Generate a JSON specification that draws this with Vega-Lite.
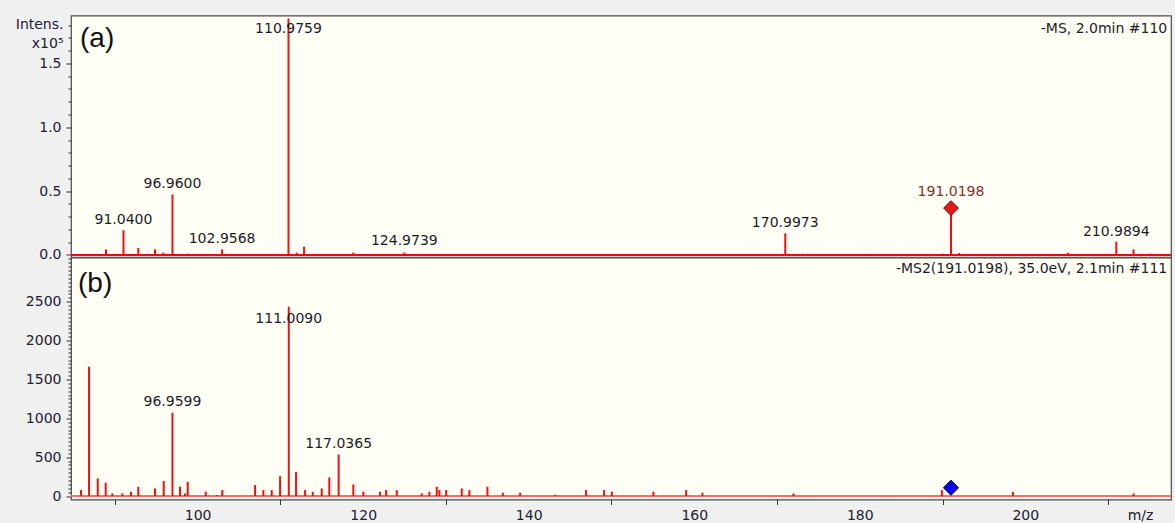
{
  "$schema": "https://vega.github.io/schema/vega-lite/v6.json",
  "padding": {"left": 14, "top": 14.5, "right": 4, "bottom": 0},
  "background": "#f0f0f0",
  "bounds": "flush",
  "datasets": {
    "ms1": [
      {"mz": 88.93, "I": 4400}, {"mz": 91.04, "I": 19300}, {"mz": 92.83, "I": 5500},
      {"mz": 94.85, "I": 4400}, {"mz": 95.85, "I": 1800}, {"mz": 96.96, "I": 47400},
      {"mz": 98.8, "I": 1000}, {"mz": 102.9568, "I": 4400}, {"mz": 110.9759, "I": 185100},
      {"mz": 111.97, "I": 1800}, {"mz": 112.86, "I": 6500}, {"mz": 118.81, "I": 1800},
      {"mz": 124.9739, "I": 2000}, {"mz": 168.89, "I": 1000}, {"mz": 170.9973, "I": 17000},
      {"mz": 173.07, "I": 1000}, {"mz": 181.05, "I": 800}, {"mz": 186.9, "I": 800},
      {"mz": 189.99, "I": 1000}, {"mz": 191.0198, "I": 36700}, {"mz": 192.01, "I": 1500},
      {"mz": 205.15, "I": 1800}, {"mz": 210.9894, "I": 10400}, {"mz": 213.07, "I": 4400},
      {"mz": 215.09, "I": 1000}, {"mz": 216.3, "I": 800}
    ],
    "lab1": [
      {"mz": 91.04, "ly": 27300, "label": "91.0400"},
      {"mz": 96.96, "ly": 55500, "label": "96.9600"},
      {"mz": 102.9568, "ly": 12200, "label": "102.9568"},
      {"mz": 110.9759, "ly": 177300, "label": "110.9759"},
      {"mz": 124.9739, "ly": 10900, "label": "124.9739"},
      {"mz": 170.9973, "ly": 25200, "label": "170.9973"},
      {"mz": 210.9894, "ly": 18200, "label": "210.9894"}
    ],
    "prec1": [{"mz": 191.0198, "I": 36700, "ly": 49500, "label": "191.0198"}],
    "ms2": [
      {"mz": 85.91, "I": 77}, {"mz": 86.88, "I": 1664}, {"mz": 87.93, "I": 227},
      {"mz": 88.89, "I": 172}, {"mz": 89.69, "I": 34}, {"mz": 90.9, "I": 34},
      {"mz": 91.95, "I": 56}, {"mz": 92.83, "I": 120}, {"mz": 94.85, "I": 99},
      {"mz": 95.9, "I": 193}, {"mz": 96.9599, "I": 1072}, {"mz": 97.87, "I": 120},
      {"mz": 98.48, "I": 34}, {"mz": 98.8, "I": 184}, {"mz": 100.98, "I": 56},
      {"mz": 102.31, "I": 13}, {"mz": 102.98, "I": 77}, {"mz": 106.94, "I": 141},
      {"mz": 107.94, "I": 77}, {"mz": 108.95, "I": 77}, {"mz": 109.96, "I": 257},
      {"mz": 111.009, "I": 2436}, {"mz": 111.89, "I": 309}, {"mz": 112.98, "I": 77},
      {"mz": 113.91, "I": 56}, {"mz": 114.99, "I": 99}, {"mz": 115.91, "I": 240},
      {"mz": 117.0365, "I": 536}, {"mz": 118.81, "I": 150}, {"mz": 120.02, "I": 56},
      {"mz": 122.04, "I": 56}, {"mz": 122.77, "I": 77}, {"mz": 124.06, "I": 77},
      {"mz": 127.08, "I": 34}, {"mz": 128.0, "I": 56}, {"mz": 128.89, "I": 120},
      {"mz": 129.21, "I": 77}, {"mz": 130.02, "I": 77}, {"mz": 131.91, "I": 99},
      {"mz": 132.83, "I": 77}, {"mz": 135.01, "I": 120}, {"mz": 136.87, "I": 43},
      {"mz": 138.96, "I": 43}, {"mz": 143.19, "I": 17}, {"mz": 146.93, "I": 77},
      {"mz": 149.11, "I": 77}, {"mz": 150.04, "I": 56}, {"mz": 155.07, "I": 56},
      {"mz": 159.02, "I": 77}, {"mz": 160.99, "I": 43}, {"mz": 171.99, "I": 34},
      {"mz": 189.92, "I": 77}, {"mz": 198.5, "I": 56}, {"mz": 213.07, "I": 34}
    ],
    "lab2": [
      {"mz": 96.9599, "ly": 1208, "label": "96.9599"},
      {"mz": 111.009, "ly": 2281, "label": "111.0090"},
      {"mz": 117.0365, "ly": 668, "label": "117.0365"}
    ],
    "prec2": [{"mz": 191.0198, "I": 107}],
    "one": [{"k": 1}]
  },
  "spacing": 0,
  "vconcat": [
    {
      "width": 1100,
      "height": 241.5,
      "resolve": {"axis": {"y": "independent"}},
      "layer": [
        {
          "data": {"name": "ms1"},
          "mark": {"type": "rule", "color": "#ee1111", "strokeWidth": 2},
          "encoding": {
            "x": {"field": "mz", "type": "quantitative", "scale": {"domain": [84.7, 217.6], "nice": false, "zero": false}, "axis": null},
            "y": {"field": "I", "type": "quantitative",
                  "scale": {"domain": [-1600, 187500], "nice": false, "zero": false},
                  "axis": {
                    "orient": "left",
                    "values": [0, 50000, 100000, 150000],
                    "labelExpr": "format(datum.value / 100000, '.1f')",
                    "tickSize": 5,
                    "labelPadding": 5,
                    "title": ["Intens.", "x10⁵"],
                    "titleAngle": 0, "titleAlign": "right", "titleBaseline": "top",
                    "titleX": -8, "titleY": 2, "titleFontWeight": "normal",
                    "titleFontSize": 14, "titleLineHeight": 19, "titleColor": "#202030"
                  }},
            "y2": {"datum": 0}
          }
        },
        {
          "data": {"name": "one"},
          "mark": {"type": "rule", "color": "#dd0f0f", "strokeWidth": 2},
          "encoding": {
            "y": {"datum": 0, "type": "quantitative",
                  "axis": {"orient": "left", "values": [10000,20000,30000,40000,60000,70000,80000,90000,110000,120000,130000,140000,160000,170000,180000], "labels": false, "tickSize": 3, "title": null}}
          }
        },
        {
          "data": {"name": "prec1"},
          "mark": {"type": "point", "shape": "diamond", "filled": true, "size": 220, "fill": "#e41a1a", "stroke": "#6a0a0a", "strokeWidth": 1, "opacity": 1},
          "encoding": {"x": {"field": "mz", "type": "quantitative"}, "y": {"field": "I", "type": "quantitative", "axis": null}}
        },
        {
          "data": {"name": "prec1"},
          "mark": {"type": "text", "fontSize": 14, "baseline": "middle", "color": "#8a2c2c"},
          "encoding": {"x": {"field": "mz", "type": "quantitative"}, "y": {"field": "ly", "type": "quantitative", "axis": null}, "text": {"field": "label"}}
        },
        {
          "data": {"name": "lab1"},
          "mark": {"type": "text", "fontSize": 14, "baseline": "middle", "color": "#1c1c28"},
          "encoding": {"x": {"field": "mz", "type": "quantitative"}, "y": {"field": "ly", "type": "quantitative", "axis": null}, "text": {"field": "label"}}
        },
        {
          "data": {"name": "one"},
          "mark": {"type": "text", "fontSize": 14, "align": "right", "baseline": "middle", "color": "#1c1c28"},
          "encoding": {"x": {"datum": 217.15, "type": "quantitative"}, "y": {"datum": 176600, "type": "quantitative", "axis": null}, "text": {"value": "-MS, 2.0min #110"}}
        },
        {
          "data": {"name": "one"},
          "mark": {"type": "text", "fontSize": 28, "font": "Liberation Sans", "align": "left", "baseline": "middle", "color": "#111111"},
          "encoding": {"x": {"datum": 85.79, "type": "quantitative"}, "y": {"datum": 169100, "type": "quantitative", "axis": null}, "text": {"value": "(a)"}}
        }
      ]
    },
    {
      "width": 1100,
      "height": 242,
      "resolve": {"axis": {"y": "independent"}},
      "layer": [
        {
          "data": {"name": "one"},
          "mark": {"type": "rule", "color": "#ff6a6a", "strokeWidth": 2},
          "encoding": {
            "y": {"datum": 0, "type": "quantitative",
                  "axis": {"orient": "left", "labels": false, "tickSize": 3, "title": null,
                           "values": [50,100,150,200,250,300,350,400,450,550,600,650,700,750,800,850,900,950,1050,1100,1150,1200,1250,1300,1350,1400,1450,1550,1600,1650,1700,1750,1800,1850,1900,1950,2050,2100,2150,2200,2250,2300,2350,2400,2450,2550,2600,2650,2700,2750,2800,2850,2900,2950,3000,3050]}}
          }
        },
        {
          "data": {"name": "ms2"},
          "mark": {"type": "rule", "color": "#ee1111", "strokeWidth": 2},
          "encoding": {
            "x": {"field": "mz", "type": "quantitative",
                  "scale": {"domain": [84.7, 217.6], "nice": false, "zero": false},
                  "axis": {
                    "values": [90,100,110,120,130,140,150,160,170,180,190,200,210],
                    "labelExpr": "datum.value % 20 === 0 ? format(datum.value, 'd') : ''",
                    "tickSize": 5,
                    "tickOpacity": {"condition": {"test": "datum.value % 20 === 0", "value": 0}, "value": 1},
                    "labelPadding": 4,
                    "labelOverlap": false,
                    "labelFlush": false,
                    "title": "m/z",
                    "titleX": 1069, "titleY": 20, "titleAlign": "center", "titleBaseline": "alphabetic",
                    "titleFontWeight": "normal", "titleFontSize": 14, "titleColor": "#202030"
                  }},
            "y": {"field": "I", "type": "quantitative",
                  "scale": {"domain": [-44, 3069], "nice": false, "zero": false},
                  "axis": {
                    "orient": "left",
                    "values": [0, 500, 1000, 1500, 2000, 2500],
                    "format": "d",
                    "tickSize": 5,
                    "labelPadding": 5,
                    "title": null
                  }},
            "y2": {"datum": 0}
          }
        },
        {
          "data": {"name": "prec2"},
          "mark": {"type": "point", "shape": "diamond", "filled": true, "size": 230, "fill": "#0a0ae6", "stroke": "#00005a", "strokeWidth": 1, "opacity": 1},
          "encoding": {"x": {"field": "mz", "type": "quantitative"}, "y": {"field": "I", "type": "quantitative", "axis": null}}
        },
        {
          "data": {"name": "lab2"},
          "mark": {"type": "text", "fontSize": 14, "baseline": "middle", "color": "#1c1c28"},
          "encoding": {"x": {"field": "mz", "type": "quantitative"}, "y": {"field": "ly", "type": "quantitative", "axis": null}, "text": {"field": "label"}}
        },
        {
          "data": {"name": "one"},
          "mark": {"type": "text", "fontSize": 14, "align": "right", "baseline": "middle", "color": "#1c1c28"},
          "encoding": {"x": {"datum": 217.15, "type": "quantitative"}, "y": {"datum": 2915, "type": "quantitative", "axis": null}, "text": {"value": "-MS2(191.0198), 35.0eV, 2.1min #111"}}
        },
        {
          "data": {"name": "one"},
          "mark": {"type": "text", "fontSize": 28, "font": "Liberation Sans", "align": "left", "baseline": "middle", "color": "#111111"},
          "encoding": {"x": {"datum": 85.55, "type": "quantitative"}, "y": {"datum": 2729, "type": "quantitative", "axis": null}, "text": {"value": "(b)"}}
        }
      ]
    }
  ],
  "config": {
    "font": "DejaVu Sans",
    "view": {"fill": "#fffff5", "stroke": "#4a4a4a", "strokeWidth": 1.2},
    "axis": {
      "labelFont": "DejaVu Sans", "labelFontSize": 14, "labelColor": "#202030",
      "titleFont": "DejaVu Sans", "labelOverlap": false,
      "tickColor": "#333333", "tickWidth": 1, "domain": false, "grid": false
    }
  }
}
